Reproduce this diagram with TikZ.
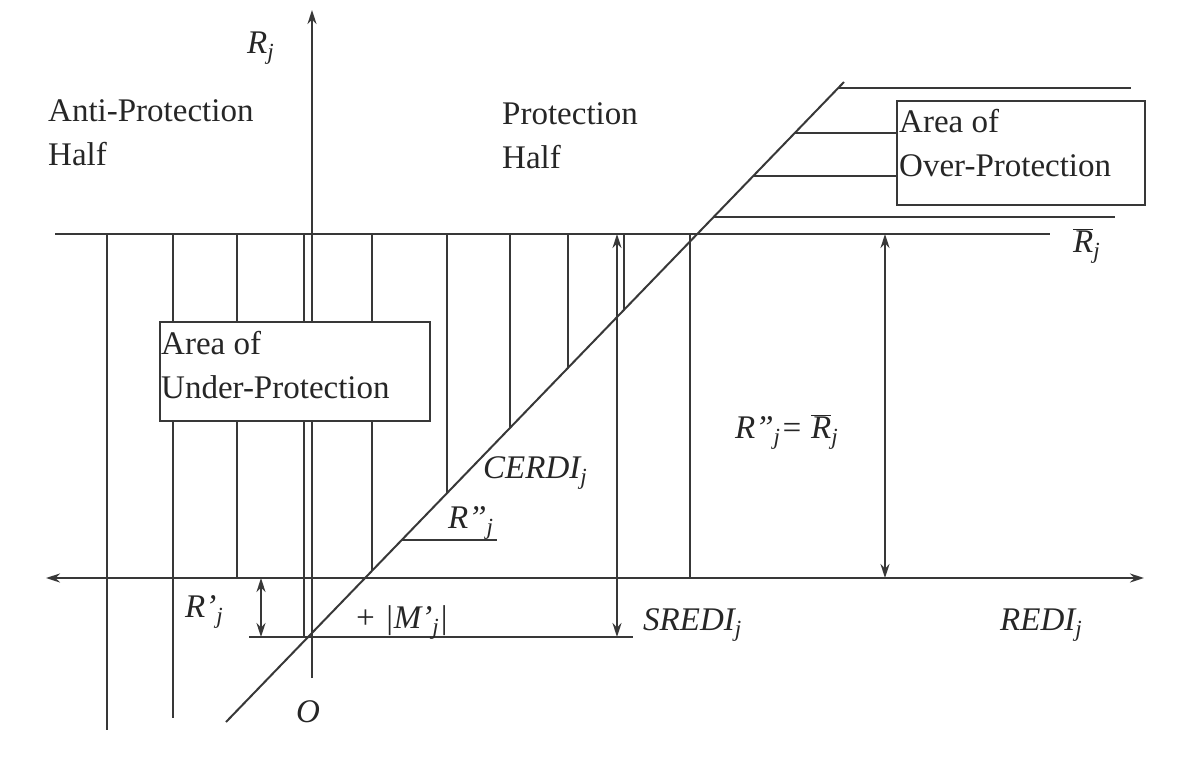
\documentclass[tikz,border=0pt]{standalone}
\usepackage{fontspec}
\setmainfont{Liberation Serif}
\usetikzlibrary{arrows.meta}
\newcommand{\jj}{\textsubscript{j}}
\newcommand{\barR}{\ensuremath{\overline{\mbox{\itshape R}}}}
\begin{document}
\begin{tikzpicture}[x=1pt,y=-1pt,
  ln/.style={line width=2pt, draw=black!78},
  dbl/.style={{Stealth[length=14pt,width=9pt]}-{Stealth[length=14pt,width=9pt]}},
  onetip/.style={-{Stealth[length=14pt,width=9pt]}},
  plain/.style={font=\fontsize{33}{44}\selectfont, text=black!85, inner sep=0pt, align=left},
  var/.style={font=\fontsize{33}{44}\selectfont\itshape, text=black!85, inner sep=0pt},
  boxst/.style={ln, fill=white, inner sep=0pt, anchor=north west}]
\useasboundingbox (0,0) rectangle (1180,756);

% axes and main lines
\coordinate (Ybot) at (312,678);
\coordinate (Ytop) at (312,10);
\coordinate (Xl) at (46,578);
\coordinate (Xr) at (1144,578);
\coordinate (Tl) at (55,234);
\coordinate (Tr) at (1050,234);
\coordinate (D0) at (226,722);
\coordinate (D1) at (844,82);
\coordinate (Ll) at (249,637);
\coordinate (Lr) at (633,637);

% hatching below the Rbar line
\foreach \x/\yb in {107/730,173/718,237/578,304/637,372/571,447/493,510/428,568/368,624/310,690/578}
  \draw[ln] (\x,234) -- (\x,\yb);

\draw[ln,onetip] (Ybot) -- (Ytop);
\draw[ln,dbl] (Xl) -- (Xr);
\draw[ln] (Tl) -- (Tr);
\draw[ln] (D0) -- (D1);
\draw[ln] (Ll) -- (Lr);

% over-protection hatching
\node (over) [boxst, minimum width=248pt, minimum height=104pt] at (896,100) {};
\coordinate (H1a) at (838,88); \coordinate (H1b) at (1131,88);
\coordinate (H2a) at (795,133);
\coordinate (H3a) at (753,176);
\coordinate (H4a) at (714,217); \coordinate (H4b) at (1115,217);
\draw[ln] (H1a) -- (H1b);
\draw[ln] (H2a) -- (H2a -| over.west);
\draw[ln] (H3a) -- (H3a -| over.west);
\draw[ln] (H4a) -- (H4b);

% under-protection box
\node (under) [boxst, minimum width=270pt, minimum height=99pt] at (159,321) {};

% double arrows
\coordinate (A1t) at (617,234); \coordinate (A1b) at (617,637);
\coordinate (A2t) at (885,234); \coordinate (A2b) at (885,578);
\coordinate (A3t) at (261,578); \coordinate (A3b) at (261,637);
\draw[ln,dbl] (A1t) -- (A1b);
\draw[ln,dbl] (A2t) -- (A2b);
\draw[ln,dbl] (A3t) -- (A3b);

% R'' underline
\coordinate (U1) at (402,540); \coordinate (U2) at (497,540);
\draw[ln] (U1) -- (U2);

% texts
\node[plain, anchor=north west] (anti) at (48,99) {Anti-Protection\\Half};
\node[plain, anchor=north west] (prot) at (502,102) {Protection\\Half};
\node[plain, anchor=north west] (undertxt) at (161,331) {Area of\\Under-Protection};
\node[plain, anchor=north west] (overtxt) at (899,109) {Area of\\Over-Protection};

\node[var, anchor=base west] (lRj) at (247,53) {R\jj};
\node[var, anchor=base west] (lRbar) at (1073,252) {\barR\jj};
\node[var, anchor=base west] (lCERDI) at (483,478) {CERDI\jj};
\node[var, anchor=base west] (lRpp) at (448,528) {R''\jj};
\node[var, anchor=base west] (lSREDI) at (643,630) {SREDI\jj};
\node[var, anchor=base west] (lREDI) at (1000,630) {REDI\jj};
\node[var, anchor=base west] (lRp) at (185,617) {R'\jj};
\node[var, anchor=base west] (lM) at (354,628) {+ |M'\jj|};
\node[var, anchor=base west] (lO) at (296,722) {O};
\node[var, anchor=base west] (lEq) at (735,438) {R''\jj= \barR\jj};
\end{tikzpicture}
\end{document}
